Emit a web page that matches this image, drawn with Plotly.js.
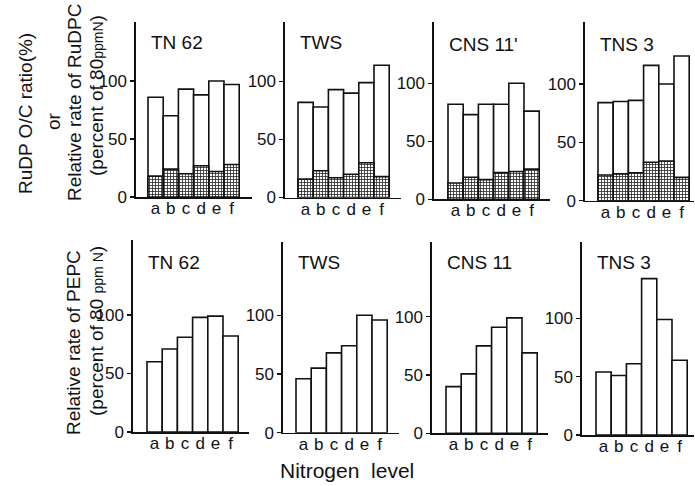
<!DOCTYPE html>
<html>
<head>
<meta charset="utf-8">
<script src="https://cdn.plot.ly/plotly-3.0.1.min.js"></script>
<style>html,body{margin:0;padding:0;background:#fff;}#chart{width:695px;height:486px;}</style>
</head>
<body>
<div id="chart"></div>
<script>
// ---- data ----
var levels = ['a', 'b', 'c', 'd', 'e', 'f'];
var topTitles = ['TN 62', 'TWS', "CNS 11'", 'TNS 3'];
var bottomTitles = ['TN 62', 'TWS', 'CNS 11', 'TNS 3'];
var yTicks = [0, 50, 100];

// RuDPC relative rate (open bars)
var rudpcTN62 = [86, 70, 93, 88, 100, 97];
var rudpcTWS = [82, 78, 93, 90, 99, 114];
var rudpcCNS11 = [82, 73, 82, 82, 100, 76];
var rudpcTNS3 = [84, 85, 86, 116, 100, 124];

// RuDP O/C ratio (hatched bars)
var ocTN62 = [18, 24, 20, 27, 22, 28];
var ocTWS = [16, 23, 17, 20, 30, 18];
var ocCNS11 = [14, 19, 17, 23, 24, 26];
var ocTNS3 = [22, 23, 24, 33, 34, 20];

// PEPC relative rate
var pepcTN62 = [60, 71, 81, 98, 99, 82];
var pepcTWS = [46, 55, 68, 74, 100, 96];
var pepcCNS11 = [40, 51, 75, 91, 99, 69];
var pepcTNS3 = [54, 51, 61, 134, 99, 64];

// ---- layout geometry ----
var W = 695, H = 486;
var FONT = 'Liberation Sans, Arial, sans-serif';
var catW = 15.2, axLen = 116;

var panels = [
  {open: rudpcTN62, hatch: ocTN62, title: topTitles[0], x0: 136, bs: 148, base: 197, top: 22, scale: 1.16, ty: 43},
  {open: rudpcTWS, hatch: ocTWS, title: topTitles[1], x0: 285, bs: 298, base: 197.5, top: 22, scale: 1.16, ty: 43},
  {open: rudpcCNS11, hatch: ocCNS11, title: topTitles[2], x0: 434, bs: 448, base: 199.3, top: 22, scale: 1.16, ty: 44},
  {open: rudpcTNS3, hatch: ocTNS3, title: topTitles[3], x0: 585, bs: 598, base: 200.7, top: 22, scale: 1.167, ty: 45},
  {open: pepcTN62, hatch: null, title: bottomTitles[0], x0: 133, bs: 147, base: 432, top: 240, scale: 1.17, ty: 262},
  {open: pepcTWS, hatch: null, title: bottomTitles[1], x0: 283, bs: 296, base: 432.7, top: 242, scale: 1.174, ty: 262},
  {open: pepcCNS11, hatch: null, title: bottomTitles[2], x0: 432, bs: 446, base: 433.3, top: 242, scale: 1.166, ty: 262},
  {open: pepcTNS3, hatch: null, title: bottomTitles[3], x0: 582, bs: 596, base: 435, top: 242, scale: 1.167, ty: 262}
];

var traces = [];
var layout = {
  width: W, height: H,
  margin: {l: 0, r: 0, t: 0, b: 0},
  paper_bgcolor: '#fff', plot_bgcolor: 'rgba(0,0,0,0)',
  showlegend: false,
  barmode: 'overlay',
  bargap: 0,
  font: {family: FONT, color: '#111'},
  annotations: []
};

panels.forEach(function (p, i) {
  var n = i + 1;
  var xa = 'x' + (n === 1 ? '' : n), ya = 'y' + (n === 1 ? '' : n);
  traces.push({
    type: 'bar', x: levels, y: p.open, xaxis: xa, yaxis: ya,
    width: 1,
    marker: {color: '#fff', line: {color: '#111', width: 1.6}},
    hoverinfo: 'skip'
  });
  if (p.hatch) {
    traces.push({
      type: 'bar', x: levels, y: p.hatch, xaxis: xa, yaxis: ya,
      width: 1,
      marker: {color: '#fff', line: {color: '#111', width: 1.6},
        pattern: {shape: '+', size: 3, solidity: 0.45, fgcolor: '#222', bgcolor: '#fff', fillmode: 'replace'}},
      hoverinfo: 'skip'
    });
  }
  var r0 = -0.5 - (p.bs - p.x0) / catW;
  var xEnd = Math.min(p.x0 + axLen, W - 1);
  var r1 = r0 + (xEnd - p.x0) / catW;
  layout['xaxis' + (n === 1 ? '' : n)] = {
    domain: [p.x0 / W, xEnd / W],
    anchor: ya,
    type: 'category',
    range: [r0, r1],
    showline: true, linecolor: '#111', linewidth: 1.6,
    showgrid: false, zeroline: false,
    tickmode: 'array', tickvals: levels, ticktext: levels,
    ticks: '', ticklabelstandoff: -5,
    tickfont: {family: FONT, size: 17, color: '#111'},
    fixedrange: true
  };
  layout['yaxis' + (n === 1 ? '' : n)] = {
    domain: [1 - p.base / H, 1 - p.top / H],
    anchor: xa,
    range: [0, (p.base - p.top) / p.scale],
    showline: true, linecolor: '#111', linewidth: 1.6,
    showgrid: false, zeroline: false,
    tickmode: 'array', tickvals: yTicks, ticktext: yTicks.map(String),
    ticks: 'outside', ticklen: 4, tickwidth: 1.4, tickcolor: '#111',
    tickfont: {family: FONT, size: 17, color: '#111'},
    fixedrange: true
  };
  layout.annotations.push({
    xref: 'paper', yref: 'paper', x: (p.x0 + 13) / W, y: 1 - p.ty / H,
    xanchor: 'left', yanchor: 'middle', showarrow: false,
    text: p.title, font: {family: FONT, size: 19, color: '#111'}
  });
});

function vText(text, px, py, size) {
  layout.annotations.push({
    xref: 'paper', yref: 'paper', x: px / W, y: 1 - py / H,
    xanchor: 'center', yanchor: 'middle', showarrow: false, textangle: -90,
    text: text, font: {family: FONT, size: size, color: '#111'}
  });
}
vText('RuDP O/C ratio(%)', 26, 114, 19);
vText('or', 53, 121, 19);
vText('Relative rate of RuDPC', 75, 103, 19);
vText('(percent of 80<span style="font-size:14px">ppmN</span>)', 96, 96, 19);
vText('Relative rate of PEPC', 73, 343, 19);
vText('(percent of 80 <span style="font-size:14px">ppm N</span>)', 96, 331, 19);

layout.annotations.push({
  xref: 'paper', yref: 'paper', x: 347 / W, y: 1 - 470 / H,
  xanchor: 'center', yanchor: 'middle', showarrow: false,
  text: 'Nitrogen  level', font: {family: FONT, size: 21, color: '#111'}
});

Plotly.newPlot('chart', traces, layout, {staticPlot: true, displayModeBar: false});
</script>
</body>
</html>
